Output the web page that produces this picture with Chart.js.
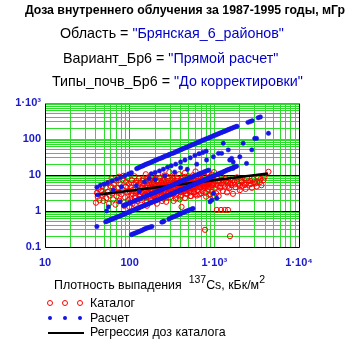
<!DOCTYPE html>
<html><head><meta charset="utf-8">
<script src="https://cdn.jsdelivr.net/npm/chart.js@4/dist/chart.umd.min.js"></script>
<style>
html,body{margin:0;padding:0;background:#fff;}
#wrap{position:relative;width:363px;height:347px;overflow:hidden;font-family:"Liberation Sans",Arial,sans-serif;}
#c{position:absolute;left:0;top:0;}
.t{position:absolute;white-space:nowrap;line-height:1;color:#000;}
.b{color:#0000c8;}
.mk{position:absolute;}
</style></head>
<body><div id="wrap">
<canvas id="c" width="363" height="347"></canvas>
<div class="t" style="left:185px;top:4px;transform:translateX(-50%);font-size:12.3px;font-weight:bold;">Доза внутреннего облучения за 1987-1995 годы, мГр</div>
<div class="t" style="left:60px;top:26px;font-size:14.3px;">Область = <span class="b">"Брянская_6_районов"</span></div>
<div class="t" style="left:63px;top:51px;font-size:14.3px;">Вариант_Бр6 = <span class="b">"Прямой расчет"</span></div>
<div class="t" style="left:52px;top:74px;font-size:14.3px;">Типы_почв_Бр6 = <span class="b">"До корректировки"</span></div>
<div class="t" style="left:54px;top:279px;font-size:12.4px;">Плотность выпадения&nbsp;&nbsp;<span style="position:relative;top:-6px;font-size:10.5px;">137</span>Cs, кБк/м<span style="position:relative;top:-6px;font-size:10.5px;">2</span></div>
<div class="t" style="left:90px;top:297px;font-size:12.4px;">Каталог</div>
<div class="t" style="left:90px;top:312px;font-size:12.4px;">Расчет</div>
<div class="t" style="left:90px;top:326px;font-size:12.4px;">Регрессия доз каталога</div>
<div class="mk" style="left:47px;top:300px;width:4px;height:4px;border:1px solid #f00;border-radius:50%;"></div>
<div class="mk" style="left:62px;top:300px;width:4px;height:4px;border:1px solid #f00;border-radius:50%;"></div>
<div class="mk" style="left:77px;top:300px;width:4px;height:4px;border:1px solid #f00;border-radius:50%;"></div>
<div class="mk" style="left:48px;top:316px;width:4px;height:4px;background:#1414e6;border-radius:50%;"></div>
<div class="mk" style="left:63px;top:316px;width:4px;height:4px;background:#1414e6;border-radius:50%;"></div>
<div class="mk" style="left:78px;top:316px;width:4px;height:4px;background:#1414e6;border-radius:50%;"></div>
<div class="mk" style="left:48px;top:332px;width:36px;height:2px;background:#000;"></div>
</div>
<script>
// ---- data ----
const xTickValues = [10, 100, 1000, 10000];
const xTickLabels = ['10', '100', '1·10³', '1·10⁴'];
const yTickValues = [0.1, 1, 10, 100, 1000];
const yTickLabels = ['0.1', '1', '10', '100', '1·10³'];

// Каталог (open red circles)
const catalogPts = [
[40,1.7],[41,3.2],[42,2.5],[43,4.1],[44,2.0],[46,3.6],[47,2.8],[48,5.0],[49,1.9],[50,3.0],
[52,4.4],[53,2.3],[55,3.4],[56,6.0],[57,1.6],[58,2.7],[60,4.9],[61,8.1],[62,3.1],[64,2.1],[65,5.6],[66,3.8],[68,1.5],[69,7.0],[70,2.6],
[72,4.3],[74,3.2],[75,9.0],[76,1.9],[78,5.5],[80,2.9],[82,7.5],[83,3.9],[85,9.5],[86,1.4],[88,2.4],[90,4.8],[91,6.4],[93,3.3],[95,8.3],[96,2.0],[98,5.7],[99,1.3],[100,3.6],
[103,4.6],[105,2.7],[106,7.2],[108,1.6],[110,3.9],[112,5.9],[114,9.2],[115,2.3],[117,4.4],[119,3.1],[121,6.8],[123,1.9],[125,5.2],[127,3.6],[129,8.0],[131,2.6],[133,4.0],[135,6.1],[137,1.5],[139,3.3],[141,4.9],[143,7.5],[145,2.2],[147,5.6],[149,3.8],
[151,2.9],[153,4.5],[155,10.5],[157,6.6],[159,1.8],[161,3.4],[163,5.1],[165,8.6],[167,2.5],[169,4.2],[171,6.0],[173,3.0],[175,7.0],[177,2.0],[180,4.8],[182,5.6],[184,9.5],[186,3.7],[188,2.7],[190,6.4],[193,4.3],[196,3.2],[199,7.8],[202,5.0],[205,2.3],[208,3.9],[211,6.8],[214,4.6],[217,11],[220,3.4],
[223,5.4],[226,2.8],[229,8.4],[232,4.1],[235,6.1],[238,3.6],[241,1.9],[244,5.0],[247,7.2],[250,4.4],[254,3.1],[258,9.8],[262,5.7],[266,3.9],[270,6.6],[274,2.4],[278,4.8],[282,8.0],[286,3.4],[290,5.3],[294,12],[298,4.2],[302,6.3],[306,2.9],[310,7.4],[315,4.7],[320,3.7],[325,5.8],[330,9.0],
[335,3.2],[340,6.9],[345,4.4],[350,2.2],[355,5.4],[360,8.2],[366,3.9],[372,6.1],[378,4.9],[384,10.5],[390,3.5],[396,7.0],[402,5.2],[408,2.7],[410,1.3],[415,4.3],[422,8.6],[429,6.0],[436,3.7],[443,5.0],[450,11.5],[457,4.0],[464,7.3],[471,5.6],[478,3.0],[485,6.4],[492,9.2],[500,4.6],
[508,3.5],[516,7.8],[524,5.3],[532,2.6],[540,6.2],[550,4.2],[560,9.8],[570,5.0],[580,3.3],[590,7.0],[600,12.5],[610,4.8],[620,5.9],[630,3.8],[642,8.3],[654,6.4],[666,2.9],[678,4.5],[690,10.5],[702,5.6],[715,7.4],[728,3.6],[741,6.0],[755,4.9],[768,8.8],[776,0.3],[782,3.2],[796,6.7],
[810,5.3],[825,11.5],[840,4.1],[855,7.2],[870,2.8],[885,6.0],[900,9.0],[918,4.6],[936,3.4],[954,7.9],[972,5.5],[990,12],[1010,4.2],[1030,6.6],[1050,3.1],[1070,1.07],[1075,8.4],[1100,5.0],[1125,2.6],[1150,7.0],[1175,4.4],[1200,1.07],[1200,9.5],[1230,5.9],[1260,3.6],[1290,6.8],
[1330,1.07],[1330,4.8],[1370,8.0],[1410,3.3],[1450,1.07],[1450,6.2],[1500,4.3],[1530,0.2],[1550,7.5],[1600,5.2],[1660,3.0],[1720,6.5],[1780,4.6],[1850,8.6],[1920,5.6],[2000,3.8],[2080,7.0],[2160,5.0],[2250,6.1],[2340,4.1],[2440,8.0],
[2550,5.4],[2660,6.8],[2780,4.4],[2900,7.6],[3030,5.8],[3160,4.8],[3300,8.4],[3450,6.3],[3600,5.2],[3800,7.2],[4360,12.3],
[155,2.4],[165,2.9],[175,2.5],[185,3.1],[195,2.6],[210,3.0],[225,3.3],[240,2.8],[255,3.6],[265,2.7],[280,3.0],[300,3.5],[320,3.0],[340,3.8],[360,3.1],[380,4.1],[400,3.3],[420,4.5],[440,3.5],[460,4.8],[490,3.9],[520,4.3],[550,4.9],[575,4.0],[600,5.3],[630,4.5],[660,5.6],[700,4.7],[740,5.3],[780,5.9],[820,4.9],[860,5.5],
[200,4.0],[230,4.6],[270,5.1],[310,4.0],[350,4.6],[395,5.8],[440,6.6],[480,5.5],[530,6.9],[580,6.2],[640,7.1],[700,6.5],[760,7.3],[205,2.0],[250,2.2],[300,2.4],[350,2.8],[400,2.5],[460,3.0],[520,3.3],
[102,2.2],[109,3.0],[116,2.6],[124,3.3],[132,2.9],[140,4.3],[148,2.6],[156,3.8],[164,3.2],[172,4.6],[181,3.5],[190,2.9],[198,5.2],[207,4.2],[216,3.8],[226,4.9],[236,3.2],[246,5.6],[257,4.6],[268,3.4],[279,5.9],[291,4.4],[303,3.8],[316,5.1],[329,4.3],[343,5.7],[357,3.6],[372,5.0],[388,4.5],[404,6.4],[421,3.9],[438,5.3],[456,4.4],[475,6.2],[495,5.0],[515,3.9],[536,5.7],[558,4.6],[581,6.6],[605,5.6],[630,6.8],[656,4.9],[683,6.0],[711,5.1],[740,6.4],[770,4.3],[802,5.7],[835,6.3],[870,4.7],[905,6.9],[942,5.2],[980,6.1],
[118,6.0],[142,6.9],[170,7.6],[195,6.1],[222,7.0],[253,8.6],[288,6.9],[325,7.9],[365,6.9],[410,7.6],[455,8.9],[505,8.2],[560,7.4],[620,9.0],[690,8.0],[760,9.6],[850,8.3],[940,10.2],
[1050,5.4],[1110,6.5],[1170,4.9],[1240,7.4],[1300,5.4],[1380,6.5],[1460,5.0],[1540,6.0],[1640,7.0],[1740,5.5],[1860,6.6],[1990,5.0],[2120,6.4],[2300,5.3],[2500,6.6],[2700,5.6],[2950,6.3],[3200,6.5],[3500,7.6],[3900,8.6],
[115,1.5],[160,1.4],[210,1.6],[270,1.8],[330,1.9],[390,2.1],[450,2.3],[520,2.6],[600,2.9],[620,2.7],[700,3.1],[800,2.5],[900,2.9],[1000,2.6]
];

// Расчет (filled blue dots)
const calcPts = [
[41,4.6],[45,5.2],[50,5.6],[55,6.1],[62,6.8],[70,7.6],[78,8.5],[88,9.6],[97,10.7],[105,11.6],
[121,15],[130,16.3],[140,17.6],[150,19],[162,20.5],[175,22],[190,24],[205,26],[220,28],[240,30],[260,33],[280,35],[300,38],[330,41],[360,45],[390,49],[420,53],[460,58],[500,63],[540,68],[590,74],[640,80],[700,88],[760,96],[830,104],[900,113],[980,123],[1060,133],[1150,144],[1250,156],[1350,168],[1450,180],[1560,194],[1700,210],[1850,225],
[125,15.6],[135,17],[145,18.3],[156,19.8],[168,21.2],[182,23],[197,25],[212,27],[230,29],[250,31.5],[270,34],[290,36.5],[315,39.5],[345,43],[375,47],[405,51],[440,55.5],[480,60],[520,65.5],[565,71],[615,77],[670,84],[730,92],[795,100],[865,108],[940,118],[1020,128],[1105,138],[1200,150],[1300,162],[1400,174],[1500,187],[1630,202],[1775,218],
[2500,290],[2650,305],[2800,320],[3300,390],[3500,410],
[180,10.8],[200,11.8],[225,13],[250,14.5],[280,16.5],[310,18],[350,20],[400,23],[450,26],[520,30],[590,35],[660,39],[730,42],[800,46],
[810,26],[975,32],[1120,40],[1220,40],[1274,76],[1460,50],[1520,26],[1670,23],[2000,32],[2190,76],[2400,21],[2770,50],[3000,104],[3150,104],[4360,144],[1600,29],[1670,15.3],
[41,0.37],[52,0.5],[56,0.54],[60,0.58],[65,0.62],[70,0.67],[76,0.72],[82,0.78],[88,0.84],[95,0.9],[102,0.97],[110,1.05],[118,1.12],[127,1.2],[136,1.3],[146,1.4],[157,1.5],[168,1.6],[180,1.72],[193,1.84],[207,1.97],[222,2.1],[238,2.27],[255,2.43],[273,2.6],[293,2.8],[314,3],[336,3.2],[360,3.4],[386,3.7],[414,3.95],[444,4.2],[476,4.5],[510,4.85],[547,5.2],[586,5.6],[628,6],[673,6.4],[721,6.9],[773,7.4],[829,7.9],[889,8.5],[953,9.1],[1020,9.8],[1095,10.5],[1175,11.3],[1260,12],[1350,13],[1450,14],[1560,15],[1700,16.5],[1830,17.5],
[54,0.52],[58,0.56],[62,0.6],[68,0.65],[73,0.7],[79,0.75],[85,0.81],[91,0.87],[98,0.94],[106,1.01],[114,1.09],[122,1.16],[131,1.25],[141,1.35],[151,1.45],[162,1.55],[174,1.66],[186,1.78],[200,1.9],[214,2.03],[230,2.18],[246,2.35],[264,2.52],[283,2.7],[303,2.9],[325,3.1],[348,3.3],[373,3.55],[400,3.8],[429,4.08],[460,4.35],[493,4.68],[528,5.0],[566,5.4],[607,5.8],[650,6.2],[697,6.65],[747,7.15],[800,7.65],[860,8.2],[920,8.8],[986,9.45],[1057,10.1],[1135,10.9],[1217,11.6],[1305,12.5],[1400,13.5],[1505,14.5],[1630,15.7],[1765,17],
[85,1.4],[95,1.6],[105,1.75],[118,1.95],[130,2.15],[145,2.4],[160,2.65],[178,2.95],[198,3.25],[220,3.6],[245,4],[272,4.45],[302,4.95],[335,5.5],[372,6.1],[413,6.8],[460,7.5],[510,8.3],[566,9.2],[630,10.2],[700,11.3],[780,12.5],[860,13.7],
[90,1.5],[100,1.68],[111,1.85],[124,2.05],[137,2.28],[152,2.52],[169,2.8],[188,3.1],[209,3.42],[232,3.8],[258,4.22],[287,4.7],[318,5.2],[353,5.8],[392,6.45],[436,7.15],[485,7.9],[538,8.75],[598,9.7],[665,10.7],[740,11.9],[820,13.1],
[105,0.22],[112,0.235],[120,0.25],[130,0.27],[140,0.29],[152,0.32],[165,0.345],[183,0.37],[240,0.49],[254,0.52],[290,0.6],[320,0.67],[350,0.73],[380,0.8],[410,0.87],[440,0.93],[474,1.0],[510,1.07],[560,1.17],
[108,0.228],[116,0.243],[125,0.26],[135,0.28],[146,0.305],[158,0.332],[174,0.358],[247,0.505],[305,0.635],[335,0.7],[365,0.765],[395,0.83],[425,0.9],[457,0.965],[492,1.03],[535,1.12],
[42,2.8],[64,3.8],[80,4.7],[77,1.8],[53.5,1.0],[56,1.3],[88,1.47],[120,5],[150,6.5],[200,7.5],[130,3.5],[260,9.5],[340,12],[480,14.5],[620,20],[400,16],[170,8],[1070,2.25],[935,2.0],[980,3.1],[890,1.8]
];

// Регрессия доз каталога
const regressionX = [39, 4300];
const regressionY = [2.78, 11];

// ---- chart ----
function gridValues(minExp, maxExp) {
  const out = [];
  for (let e = minExp; e < maxExp; e++) {
    const d = Math.pow(10, e);
    for (let m = 1; m <= 9; m++) out.push(m * d);
  }
  out.push(Math.pow(10, maxExp));
  return out;
}
function isPow(v, p) { return Math.abs(Math.log10(v) - p) < 1e-6; }
function labelFor(vals, labs, v) {
  for (let i = 0; i < vals.length; i++) if (Math.abs(Math.log10(vals[i]) - Math.log10(v)) < 1e-6) return labs[i];
  return '';
}
const GREEN = '#2edc2e';
const tickFont = { family: '"Liberation Sans", Arial, sans-serif', size: 11, weight: 'bold' };
const TICK = '#1a1acc';

const frame = {
  id: 'frame',
  beforeDatasetsDraw(chart) {
    const a = chart.chartArea, c = chart.ctx;
    c.save();
    c.lineWidth = 1;
    c.strokeStyle = '#000';
    c.beginPath();
    c.moveTo(a.left + 0.5, a.top); c.lineTo(a.left + 0.5, a.bottom + 0.5);
    c.lineTo(a.right + 0.5, a.bottom + 0.5); c.lineTo(a.right + 0.5, a.top);
    c.stroke();
    c.strokeStyle = '#888';
    c.beginPath(); c.moveTo(a.left, a.top + 0.5); c.lineTo(a.right + 1, a.top + 0.5); c.stroke();
    c.restore();
  }
};

new Chart(document.getElementById('c'), {
  type: 'scatter',
  data: {
    datasets: [
      {
        label: 'Расчет', order: 0,
        data: calcPts.map(p => ({ x: p[0], y: p[1] })),
        pointRadius: 2.2, pointBackgroundColor: '#1414e6', pointBorderColor: '#1414e6', pointBorderWidth: 0.5
      },
      {
        label: 'Регрессия доз каталога', order: 1, showLine: true,
        data: regressionX.map((x, i) => ({ x: x, y: regressionY[i] })),
        borderColor: '#000', borderWidth: 2.5, pointRadius: 0
      },
      {
        label: 'Каталог', order: 2,
        data: catalogPts.map(p => ({ x: p[0], y: p[1] })),
        pointRadius: 2.6, pointBackgroundColor: 'rgba(0,0,0,0)', pointBorderColor: '#f00', pointBorderWidth: 1
      }
    ]
  },
  options: {
    responsive: false, animation: false, devicePixelRatio: 1,
    layout: { padding: { left: 0, top: 103, right: 64, bottom: 70 } },
    plugins: { legend: { display: false }, tooltip: { enabled: false } },
    scales: {
      x: {
        type: 'logarithmic', min: 10, max: 10000,
        afterBuildTicks: s => { s.ticks = gridValues(1, 4).map(v => ({ value: v })); },
        afterFit: s => { s.height = 30; },
        border: { display: false },
        grid: {
          drawTicks: false, lineWidth: 1,
          color: ctx => (ctx.tick && isPow(ctx.tick.value, 2)) ? '#707070' : GREEN
        },
        ticks: {
          autoSkip: false, maxRotation: 0, padding: 9, color: TICK, font: tickFont,
          callback: v => labelFor(xTickValues, xTickLabels, v)
        }
      },
      y: {
        type: 'logarithmic', min: 0.1, max: 1000,
        afterBuildTicks: s => { s.ticks = gridValues(-1, 3).map(v => ({ value: v })); },
        afterFit: s => { s.width = 45; },
        border: { display: false },
        grid: {
          drawTicks: false, lineWidth: 1,
          color: ctx => (ctx.tick && (isPow(ctx.tick.value, 0) || isPow(ctx.tick.value, 1))) ? '#000' : GREEN
        },
        ticks: {
          autoSkip: false, padding: 4, color: TICK, font: tickFont,
          callback: v => labelFor(yTickValues, yTickLabels, v)
        }
      }
    }
  },
  plugins: [frame]
});
</script>
</body></html>
